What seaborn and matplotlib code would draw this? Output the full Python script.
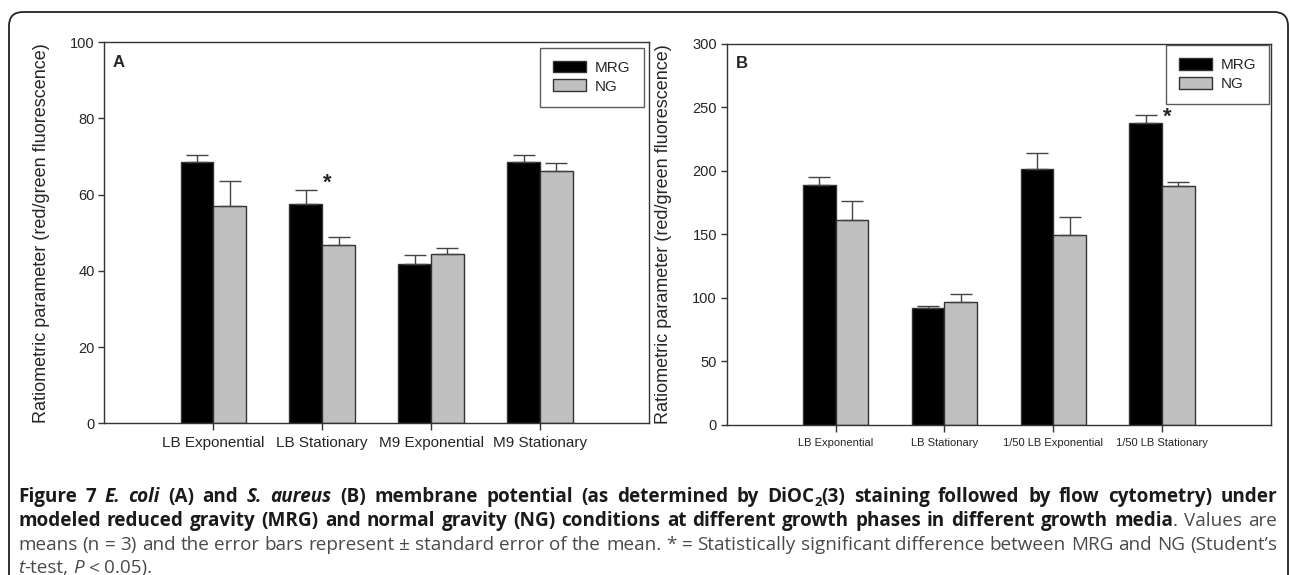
import numpy as np
import pandas as pd
import matplotlib
matplotlib.use("Agg")
import matplotlib.pyplot as plt
import seaborn as sns
from matplotlib.patches import FancyBboxPatch, Patch
from matplotlib.transforms import IdentityTransform

# Panel A: E. coli
groups_a = ["LB Exponential", "LB Stationary", "M9 Exponential", "M9 Stationary"]
mrg_a = [68.5, 57.6, 41.9, 68.5]
mrg_a_se = [1.8, 3.7, 2.3, 1.8]
ng_a = [57.1, 46.9, 44.5, 66.1]
ng_a_se = [6.4, 2.0, 1.6, 2.1]
star_a = [(1.05, 63.0)]

# Panel B: S. aureus
groups_b = ["LB Exponential", "LB Stationary", "1/50 LB Exponential", "1/50 LB Stationary"]
mrg_b = [189.0, 92.0, 201.5, 238.0]
mrg_b_se = [6.0, 2.0, 12.3, 5.7]
ng_b = [161.3, 96.8, 149.5, 187.8]
ng_b_se = [14.7, 6.0, 14.4, 3.1]
star_b = [(3.05, 242.0)]

conditions = ["MRG", "NG"]
colors = {"MRG": "black", "NG": "#c0c0c0"}
ylabel = "Ratiometric parameter (red/green fluorescence)"

sns.set_style("ticks")
plt.rcParams["font.family"] = ["Liberation Sans", "DejaVu Sans"]

W, H = 1290, 575
fig = plt.figure(figsize=(W / 100, H / 100), dpi=100)


def draw_panel(rect, groups, mrg, mrg_se, ng, ng_se, ymax, yticks, letter,
               stars, xfs, ylabel_x, leg_pad):
    ax = fig.add_axes(rect)
    df = pd.DataFrame({
        "group": groups * 2,
        "condition": ["MRG"] * len(groups) + ["NG"] * len(groups),
        "value": list(mrg) + list(ng),
    })
    sns.barplot(data=df, x="group", y="value", hue="condition",
                hue_order=conditions, palette=colors, width=0.6,
                edgecolor="#333333", linewidth=1, errorbar=None,
                legend=False, ax=ax)
    for cont, se in zip(ax.containers, [mrg_se, ng_se]):
        xs = [b.get_x() + b.get_width() / 2 for b in cont]
        ys = [b.get_height() for b in cont]
        ax.errorbar(xs, ys, yerr=[np.zeros(len(se)), se], fmt="none",
                    ecolor="#444444", elinewidth=1, capsize=8, capthick=1)
    ax.set_xlim(-1, 4)
    ax.set_ylim(0, ymax)
    ax.set_yticks(yticks)
    ax.set_xlabel("")
    ax.set_ylabel(ylabel, fontsize=13)
    ax.yaxis.set_label_coords(ylabel_x, 0.5)
    ax.tick_params(axis="y", labelsize=10.5, length=4, width=1, color="#333333", pad=3)
    ax.tick_params(axis="x", labelsize=xfs, length=5, width=1, color="#333333", pad=4)
    for s in ax.spines.values():
        s.set_visible(True)
        s.set_color("#333333")
        s.set_linewidth(1)
    ax.text(0.016, 0.948, letter, transform=ax.transAxes, fontsize=12,
            fontweight="bold", va="center", ha="left")
    for sx, sy in stars:
        ax.text(sx, sy, "*", fontsize=16, fontweight="bold", ha="center",
                va="center", zorder=10)
    handles = [Patch(facecolor=colors[c], edgecolor="#333333", linewidth=1) for c in conditions]
    leg = ax.legend(handles, conditions, loc="upper right", fontsize=11,
                    frameon=True, fancybox=False, edgecolor="#333333",
                    handlelength=2.15, handleheight=0.8, handletextpad=0.6,
                    labelspacing=0.3, borderpad=0.85, borderaxespad=leg_pad)
    leg.get_frame().set_linewidth(1)
    leg.set_zorder(5)
    return ax


draw_panel([104.3 / W, 1 - 423.3 / H, 544.7 / W, 381.0 / H], groups_a,
           mrg_a, mrg_a_se, ng_a, ng_a_se, 100, np.arange(0, 101, 20), "A",
           star_a, 11, -0.1006, 0.35)
draw_panel([726.7 / W, 1 - 425.0 / H, 544.3 / W, 381.3 / H], groups_b,
           mrg_b, mrg_b_se, ng_b, ng_b_se, 300, np.arange(0, 301, 50), "B",
           star_b, 8, -0.1005, 0.1)

# outer rounded frame (bottom runs off the page)
frame = FancyBboxPatch((9, -40), 1279, 603, boxstyle="round,pad=0,rounding_size=14",
                       transform=IdentityTransform(), fill=False,
                       edgecolor="#222222", linewidth=1.3)
fig.add_artist(frame)

# caption
cap_font = ["Open Sans", "DejaVu Sans"]
styles = {
    "b": dict(fontweight="bold", color="#1a1a1a"),
    "bi": dict(fontweight="bold", fontstyle="italic", color="#1a1a1a"),
    "bs": dict(fontweight="bold", color="#1a1a1a"),
    "r": dict(color="#4a4a4a"),
    "i": dict(fontstyle="italic", color="#4a4a4a"),
}
caption = [
    [("Figure 7 ", "b"), ("E. coli", "bi"), (" (A) and ", "b"), ("S. aureus", "bi"),
     (" (B) membrane potential (as determined by DiOC", "b"), ("2", "bs"),
     ("(3) staining followed by flow cytometry) under", "b")],
    [("modeled reduced gravity (MRG) and normal gravity (NG) conditions at different growth phases in different growth media", "b"),
     (". Values are", "r")],
    [("means (n = 3) and the error bars represent \u00b1 standard error of the mean. * = Statistically significant difference between MRG and NG (Student\u2019s", "r")],
    [("t", "i"), ("-test, ", "r"), ("P", "i"), (" < 0.05).", "r")],
]
line_y = [497, 521, 545, 568]
x_left, x_right = 18, 1277

renderer = fig.canvas.get_renderer()


def make_text(s, style, size):
    kw = dict(styles[style])
    fs = size * 0.7 if style == "bs" else size
    t = fig.text(0, 0, s, transform=IdentityTransform(), fontsize=fs,
                 family=cap_font, va="baseline", ha="left", **kw)
    return t, t.get_window_extent(renderer).width


def split_words(runs):
    words = [[]]
    for text, style in runs:
        parts = text.split(" ")
        for i, p in enumerate(parts):
            if i > 0:
                words.append([])
            if p:
                words[-1].append((p, style))
    return [w for w in words if w]


def space_width(size):
    t1, w1 = make_text("a a", "r", size)
    t2, w2 = make_text("aa", "r", size)
    t1.remove()
    t2.remove()
    return w1 - w2


def line_width(runs, size):
    total = 0
    words = split_words(runs)
    for w in words:
        for s, st in w:
            t, tw = make_text(s, st, size)
            t.remove()
            total += tw
    return total + space_width(size) * (len(words) - 1)


# pick caption size so the widest full line fits the text block
probe = 10.0
widest = max(line_width(r, probe) for r in caption[:3])
cap_size = probe * (x_right - x_left) / widest * 0.995

for li, runs in enumerate(caption):
    built = []
    for w in split_words(runs):
        built.append([make_text(s, st, cap_size) + (st,) for s, st in w])
    widths = [sum(p[1] for p in w) for w in built]
    if li < 3:
        gap = (x_right - x_left - sum(widths)) / (len(widths) - 1)
    else:
        gap = space_width(cap_size)
    x = x_left
    base = H - line_y[li] - 5
    for w, ww in zip(built, widths):
        for t, tw, st in w:
            t.set_position((x, base - (4 if st == "bs" else 0)))
            x += tw
        x += gap

fig.savefig("out.png", dpi=100)
